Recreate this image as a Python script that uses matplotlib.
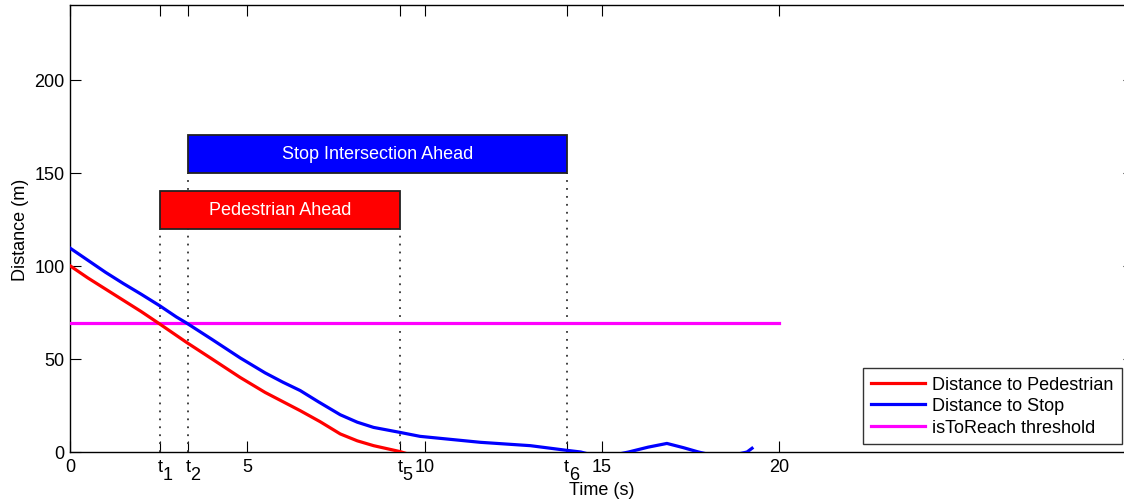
import numpy as np
import matplotlib
matplotlib.use("Agg")
import matplotlib.pyplot as plt
from matplotlib.patches import Rectangle

plt.rcParams['font.family'] = ['Liberation Sans', 'DejaVu Sans']

# distance to pedestrian (red)
ped_t = [0, 0.5, 1, 1.5, 2, 2.54, 3.29, 4, 4.8, 5.5, 6.49, 7.05, 7.62, 8.1, 8.56, 9.31, 9.6]
ped_d = [100, 93.5, 87.5, 81.5, 75.5, 68.6, 58.8, 50, 40, 32, 22.2, 16.3, 9.7, 6, 3.4, 0.2, -1.5]

# distance to stop (blue)
stop_t = [0, 0.5, 1, 1.5, 2, 2.54, 3, 3.29, 4, 4.8, 5.5, 6, 6.49, 7, 7.62, 8.1, 8.56, 9.31, 9.87,
          11.57, 12.98, 13.96, 14.4, 15, 15.75, 16.3, 16.83, 17.3, 17.72, 18.4, 19.09, 19.23]
stop_d = [109.5, 103, 96.5, 90.5, 84.8, 78.4, 72.5, 69.2, 60.5, 50.5, 42.5, 37.5, 33, 27, 20, 16,
          13.2, 10.5, 8.4, 5.2, 3.4, 1, 0, -3, 0, 2.6, 4.6, 2.3, 0, -3, 0, 2]

threshold = 69
thr_t = [0, 20]

# event times
t1, t2, t5, t6 = 2.54, 3.33, 9.3, 14.0
event_t = [t1, t2, t5, t6]
event_sub = ['1', '2', '5', '6']
num_ticks = [0, 5, 10, 15, 20]
ytick_pos = [0, 50, 100, 150, 200]

# warning boxes: (start, end, low, high, label, colour)
boxes = [
    (t1, t5, 120, 140, 'Pedestrian Ahead', '#ff0000'),
    (t2, t6, 150, 170, 'Stop Intersection Ahead', '#0000ff'),
]

fs = 13

fig = plt.figure(figsize=(11.24, 5.02), dpi=100)
ax = fig.add_axes([70 / 1124, 49 / 502, 1064 / 1124, 447 / 502])

ax.plot(ped_t, ped_d, color='#ff0000', lw=2.3, label='Distance to Pedestrian', zorder=4)
ax.plot(stop_t, stop_d, color='#0000ff', lw=2.3, label='Distance to Stop', zorder=4)
ax.plot(thr_t, [threshold, threshold], color='#ff00ff', lw=2.3, label='isToReach threshold', zorder=3)

for start, end, low, high, label, col in boxes:
    ax.add_patch(Rectangle((start, low), end - start, high - low, facecolor=col,
                           edgecolor='#222222', lw=1.3, zorder=5))
    ax.text((start + end) / 2, (low + high) / 2, label, color='white', fontsize=fs,
            ha='center', va='center', zorder=6)
    for xv in (start, end):
        ax.plot([xv, xv], [0, low], color='#333333', lw=1.3, dashes=(1, 3.4), zorder=2)

ax.set_xlim(0, 30)
ax.set_ylim(0, 240)
ax.set_xticks(num_ticks + event_t)
ax.set_xticklabels([str(v) for v in num_ticks] + [''] * len(event_t))
ax.set_yticks(ytick_pos)
ax.tick_params(direction='in', length=8, width=0.8, labelsize=fs, top=True, right=True, pad=4)
for s in ax.spines.values():
    s.set_linewidth(1.0)

# t_i labels with MATLAB-like large subscripts
for xv, sub in zip(event_t, event_sub):
    ax.annotate('t', xy=(xv, 0), xycoords=('data', 'axes fraction'), xytext=(0, -4),
                textcoords='offset points', ha='center', va='top', fontsize=fs)
    ax.annotate(sub, xy=(xv, 0), xycoords=('data', 'axes fraction'), xytext=(1.8, -10),
                textcoords='offset points', ha='left', va='top', fontsize=fs)

ax.set_xlabel('Time (s)', fontsize=fs, labelpad=5)
ax.set_ylabel('Distance (m)', fontsize=fs, labelpad=4)

leg = ax.legend(loc='lower right', bbox_to_anchor=(1052 / 1064, 8 / 447), fontsize=fs,
                frameon=True, fancybox=False, edgecolor='k', handlelength=3.0,
                borderpad=0.45, labelspacing=0.25, handletextpad=0.4, borderaxespad=0)
leg.get_frame().set_linewidth(1.0)

fig.savefig('out.png', dpi=100)
